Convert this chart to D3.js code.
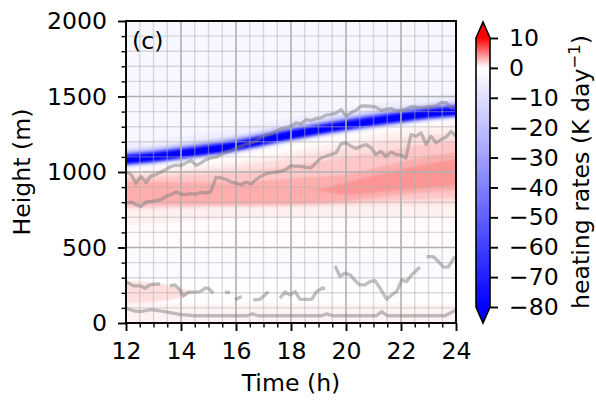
<!DOCTYPE html>
<html>
<head>
<meta charset="utf-8">
<script src="https://cdn.jsdelivr.net/npm/d3@7/dist/d3.min.js"></script>
<style>
html,body{margin:0;padding:0;background:#fff;}
svg text{font-family:"DejaVu Sans",sans-serif;fill:#000;}
</style>
</head>
<body>
<svg id="chart" width="596" height="403"></svg>
<script>
// ---------------- data (hours, metres, K/day) ----------------
const hours = [12,13,14,15,16,17,18,19,20,21,22,23,24];
const coolingCenter = [1076,1097,1120,1145,1172,1208,1245,1278,1308,1335,1360,1385,1405];
const coolingLevels = [-5,-14,-30,-50,-68,-80];
const coolingBelow  = [58,46,40,34,29,23];
const coolingAbove  = [115,72,52,42,34,25];

const warmLevels = [0.15,0.6,1.3,2.2,3.2,4.2];
const warmTops = [
  [1020,1040,1063,1090,1117,1155,1190,1223,1253,1280,1305,1330,1350],
  [1005,1018,1035,1052,1072,1102,1137,1172,1207,1242,1272,1300,1322],
  [985,995,1007,1020,1038,1068,1100,1130,1160,1195,1225,1245,1265],
  [962,968,976,986,997,1018,1043,1070,1098,1128,1158,1188,1212],
  [935,935,933,932,930,942,958,970,983,1025,1068,1104,1137],
  [870,870,870,870,870,870,870,885,930,975,1016,1055,1094]
];
const warmBottoms = [
  [480,480,480,480,480,480,480,480,480,480,480,480,480],
  [650,660,670,680,690,695,700,700,700,700,700,700,700],
  [748,752,756,760,763,766,770,772,775,778,780,783,786],
  [768,770,772,775,777,779,781,784,790,800,812,822,832],
  [785,785,785,785,785,785,785,795,806,828,850,866,883],
  [870,870,870,870,870,870,870,875,850,865,880,898,916]
];
const backgroundEdges  = [0,130,290,480,2000];
const backgroundValues = [0.5,-0.3,-1.3,-2.5];

const groundHours  = [12,12.5,13,13.5,14,14.4];
const groundTop    = [278,274,266,252,230,205];
const groundBottom = [128,132,138,150,170,200];
const groundLevel  = 1.3;

const lineHours = [12.00,12.18,12.36,12.55,12.73,12.91,13.09,13.27,13.45,13.64,13.82,
  14.00,14.18,14.36,14.55,14.73,14.91,15.09,15.27,15.45,15.64,15.82,
  16.00,16.18,16.36,16.55,16.73,16.91,17.09,17.27,17.45,17.64,17.82,
  18.00,18.18,18.36,18.55,18.73,18.91,19.09,19.27,19.45,19.64,19.82,
  20.00,20.18,20.36,20.55,20.73,20.91,21.09,21.27,21.45,21.64,21.82,
  22.00,22.18,22.36,22.55,22.73,22.91,23.09,23.27,23.45,23.64,23.82,24.00];
const upperLine = [1000,985,925,970,930,975,983,1000,1016,1038,1045,1043,1060,1076,1045,1060,1082,1093,1098,1116,1133,1142,1160,1171,1182,1193,1204,1231,1244,1253,1270,1286,1293,1304,1326,1319,1348,1341,1355,1359,1377,1381,1390,1414,1370,1392,1408,1437,1437,1434,1430,1408,1414,1421,1403,1408,1414,1432,1430,1425,1430,1432,1437,1459,1459,1425,1421];
const middleLine = [795,801,784,772,801,806,810,817,839,850,868,854,850,857,854,865,861,872,965,961,950,934,927,916,934,921,950,972,987,994,1000,1005,1016,1043,1038,1038,1031,1027,1060,1093,1104,1116,1127,1186,1193,1171,1155,1171,1182,1160,1116,1138,1104,1133,1116,1111,1093,1248,1237,1259,1182,1237,1193,1215,1231,1270,1237];

const lowerHours = [12.0,12.27,12.51,12.69,12.87,13.05,13.24,13.42,13.6,13.78,13.96,14.08,14.27,14.51,14.69,14.87,15.0,15.17,15.4,15.6,15.78,15.87,15.96,16.2,16.4,16.63,16.87,17.05,17.17,17.4,17.6,17.78,17.96,18.15,18.33,18.51,18.75,18.93,19.12,19.24,19.4,19.6,19.78,19.96,20.15,20.33,20.51,20.69,20.87,21.05,21.24,21.48,21.66,21.84,22.03,22.2,22.39,22.69,22.8,22.93,23.17,23.36,23.54,23.72,23.96];
const lowerLine = [274,246,246,230,252,257,257,null,246,252,219,179,204,204,208,230,230,197,null,204,201,null,153,175,null,153,157,186,208,null,165,205,186,208,157,157,157,208,230,230,null,378,308,330,319,281,252,252,274,281,230,157,186,208,286,274,319,370,null,440,440,407,370,372,440];

const bottomHours = [12,12.3,12.5,12.9,13.3,13.6,14.0,14.5,16.4,16.6,16.8,19.1,19.3,19.5,21.1,21.3,21.5,23.6,24];
const bottomLine  = [97,80,76,88,78,68,55,48,48,60,48,48,60,48,48,75,48,48,86];

const xTicks = [12,14,16,18,20,22,24];
const yTicks = [0,500,1000,1500,2000];
const cbTicks = [10,0,-10,-20,-30,-40,-50,-60,-70,-80];

// ---------------- drawing ----------------
const svg = d3.select("#chart");
const FS = 23.6;
const x = d3.scaleLinear().domain([12,24]).range([126,456]);
const y = d3.scaleLinear().domain([0,2000]).range([323,21]);
const color = d3.scaleLinear().domain([-80,0,10]).range(["#0000ff","#ffffff","#ff0000"]).clamp(true);

const defs = svg.append("defs");
defs.append("clipPath").attr("id","plotclip").append("rect")
  .attr("x",x(12)).attr("y",y(2000)).attr("width",x(24)-x(12)).attr("height",y(0)-y(2000));
const blur = defs.append("filter").attr("id","soft").attr("filterUnits","userSpaceOnUse")
  .attr("x",100).attr("y",0).attr("width",380).attr("height",350);
blur.append("feGaussianBlur").attr("stdDeviation",1.1);

const clipG = svg.append("g").attr("clip-path","url(#plotclip)");
const field = clipG.append("g").attr("filter","url(#soft)");

// background bands
backgroundValues.forEach((v,i)=>{
  field.append("rect")
    .attr("x",x(12)-10).attr("width",x(24)-x(12)+20)
    .attr("y",y(backgroundEdges[i+1]) - (i===backgroundValues.length-1?10:0))
    .attr("height",y(backgroundEdges[i])-y(backgroundEdges[i+1]) + (i===0||i===backgroundValues.length-1?10:0))
    .attr("fill",color(v));
});

const n = hours.length;
const xh = (i)=> x(hours[i]) + (i===0?-8:(i===n-1?8:0));
// warm layers
warmLevels.forEach((v,k)=>{
  const area = d3.area()
    .x((d,i)=>xh(i))
    .y0((d,i)=>y(warmBottoms[k][i]))
    .y1((d,i)=>y(warmTops[k][i]))
    .curve(d3.curveMonotoneX);
  field.append("path").attr("d",area(hours)).attr("fill",color(v));
});
// ground warm patch
field.append("path")
  .attr("d", d3.area()
    .x((d,i)=> i===0 ? x(groundHours[0])-8 : x(groundHours[i]))
    .y0((d,i)=>y(groundBottom[i]))
    .y1((d,i)=>y(groundTop[i]))
    .curve(d3.curveMonotoneX)(groundHours))
  .attr("fill",color(groundLevel));
// cooling layers
coolingLevels.forEach((v,k)=>{
  const area = d3.area()
    .x((d,i)=>xh(i))
    .y0((d,i)=>y(coolingCenter[i]-coolingBelow[k]))
    .y1((d,i)=>y(coolingCenter[i]+coolingAbove[k]))
    .curve(d3.curveMonotoneX);
  field.append("path").attr("d",area(hours)).attr("fill",color(v));
});

// grid (minor then major)
const grid = clipG.append("g");
d3.range(12,24.01,0.5).filter(t=>!xTicks.includes(t)).forEach(t=>{
  grid.append("line").attr("x1",x(t)).attr("x2",x(t)).attr("y1",y(0)).attr("y2",y(2000))
    .attr("stroke","#b0b0b0").attr("stroke-opacity",0.45).attr("stroke-width",1.4);
});
d3.range(0,2001,100).filter(h=>!yTicks.includes(h)).forEach(h=>{
  grid.append("line").attr("x1",x(12)).attr("x2",x(24)).attr("y1",y(h)).attr("y2",y(h))
    .attr("stroke","#b0b0b0").attr("stroke-opacity",0.45).attr("stroke-width",1.4);
});
xTicks.forEach(t=>{
  grid.append("line").attr("x1",x(t)).attr("x2",x(t)).attr("y1",y(0)).attr("y2",y(2000))
    .attr("stroke","#b0b0b0").attr("stroke-width",1.6);
});
yTicks.forEach(h=>{
  grid.append("line").attr("x1",x(12)).attr("x2",x(24)).attr("y1",y(h)).attr("y2",y(h))
    .attr("stroke","#b0b0b0").attr("stroke-width",1.6);
});

// gray lines
const lineStyle = sel => sel.attr("fill","none").attr("stroke","#7f7f7f")
  .attr("stroke-opacity",0.5).attr("stroke-width",3.3).attr("stroke-linejoin","round");
const lineGen = d3.line().defined(d=>d[1]!=null).x(d=>x(d[0])).y(d=>y(d[1]));
clipG.append("path").datum(lineHours.map((t,i)=>[t,upperLine[i]])).attr("d",lineGen).call(lineStyle);
clipG.append("path").datum(lineHours.map((t,i)=>[t,middleLine[i]])).attr("d",lineGen).call(lineStyle);
clipG.append("path").datum(lowerHours.map((t,i)=>[t,lowerLine[i]])).attr("d",lineGen).call(lineStyle);
clipG.append("path").datum(bottomHours.map((t,i)=>[t,bottomLine[i]])).attr("d",lineGen).call(lineStyle);

// axes
const xMinor = d3.range(12,24.01,0.5).filter(t=>!xTicks.includes(t));
const yMinor = d3.range(0,2001,100).filter(h=>!yTicks.includes(h));
const gx = svg.append("g").attr("transform",`translate(0,${y(0)})`)
  .call(d3.axisBottom(x).tickValues(xTicks).tickSize(8).tickPadding(11.5).tickFormat(d3.format("d")));
const gxm = svg.append("g").attr("transform",`translate(0,${y(0)})`)
  .call(d3.axisBottom(x).tickValues(xMinor).tickSize(4.5).tickFormat(""));
const gy = svg.append("g").attr("transform",`translate(${x(12)},0)`)
  .call(d3.axisLeft(y).tickValues(yTicks).tickSize(8).tickPadding(11).tickFormat(d3.format("d")));
const gym = svg.append("g").attr("transform",`translate(${x(12)},0)`)
  .call(d3.axisLeft(y).tickValues(yMinor).tickSize(4.5).tickFormat(""));
[gx,gxm,gy,gym].forEach(g=>{
  g.select(".domain").remove();
  g.selectAll("text").attr("font-size",FS).attr("font-family","DejaVu Sans");
});
gx.selectAll(".tick line").attr("stroke","#000").attr("stroke-width",1.9);
gy.selectAll(".tick line").attr("stroke","#000").attr("stroke-width",1.9);
gxm.selectAll(".tick line").attr("stroke","#000").attr("stroke-width",1.4);
gym.selectAll(".tick line").attr("stroke","#000").attr("stroke-width",1.4);

// frame
svg.append("rect").attr("x",x(12)).attr("y",y(2000)).attr("width",x(24)-x(12)).attr("height",y(0)-y(2000))
  .attr("fill","none").attr("stroke","#000").attr("stroke-width",1.9);

// panel label and axis titles
svg.append("text").attr("x",132).attr("y",49).attr("font-size",FS).text("(c)");
svg.append("text").attr("x",291).attr("y",391).attr("text-anchor","middle").attr("font-size",FS).text("Time (h)");
svg.append("text").attr("transform","translate(30,172) rotate(-90)").attr("text-anchor","middle")
  .attr("font-size",FS).text("Height (m)");

// colorbar
const cbX0 = 476, cbW = 14;
const cbY = d3.scaleLinear().domain([-80,10]).range([307,38]);
const grad = defs.append("linearGradient").attr("id","cbgrad")
  .attr("x1",0).attr("x2",0).attr("y1",1).attr("y2",0);
d3.range(-80,10.01,1).forEach(v=>{
  grad.append("stop").attr("offset",(v+80)/90).attr("stop-color",color(v));
});
svg.append("rect").attr("x",cbX0).attr("y",cbY(10)).attr("width",cbW).attr("height",cbY(-80)-cbY(10))
  .attr("fill","url(#cbgrad)");
svg.append("path").attr("d",`M${cbX0},${cbY(10)}L${cbX0+cbW/2},${cbY(10)-16}L${cbX0+cbW},${cbY(10)}Z`).attr("fill",color(10));
svg.append("path").attr("d",`M${cbX0},${cbY(-80)}L${cbX0+cbW/2},${cbY(-80)+16}L${cbX0+cbW},${cbY(-80)}Z`).attr("fill",color(-80));
svg.append("path").attr("d",`M${cbX0},${cbY(10)}L${cbX0+cbW/2},${cbY(10)-16}L${cbX0+cbW},${cbY(10)}L${cbX0+cbW},${cbY(-80)}L${cbX0+cbW/2},${cbY(-80)+16}L${cbX0},${cbY(-80)}Z`)
  .attr("fill","none").attr("stroke","#000").attr("stroke-width",1.6);
const gcb = svg.append("g").attr("transform",`translate(${cbX0+cbW},0)`)
  .call(d3.axisRight(cbY).tickValues(cbTicks).tickSize(8).tickPadding(11).tickFormat(d=>d<0?"\u2212"+Math.abs(d):String(d)));
gcb.select(".domain").remove();
gcb.selectAll(".tick line").attr("stroke","#000").attr("stroke-width",1.9);
gcb.selectAll("text").attr("font-size",FS).attr("font-family","DejaVu Sans");

const cbl = svg.append("text").attr("transform","translate(589,172) rotate(-90)").attr("text-anchor","middle")
  .attr("font-size",FS);
cbl.append("tspan").text("heating rates (K day");
cbl.append("tspan").attr("dy",-9).attr("font-size",16.5).text("\u22121");
cbl.append("tspan").attr("dy",9).text(")");
</script>
</body>
</html>
